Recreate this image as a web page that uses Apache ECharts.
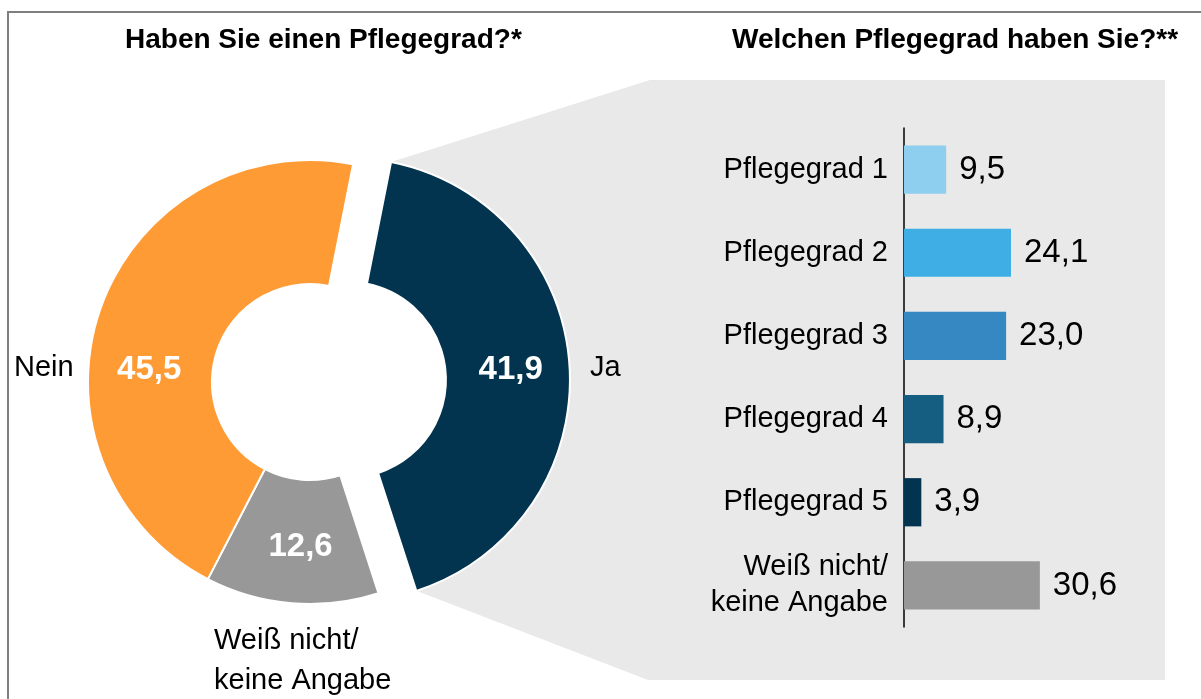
<!DOCTYPE html>
<html>
<head>
<meta charset="utf-8">
<script src="https://cdn.jsdelivr.net/npm/echarts@6/dist/echarts.min.js"></script>
<style>
  html, body { margin: 0; padding: 0; background: #fff; }
  #chart { width: 1201px; height: 699px; }
</style>
</head>
<body>
<div id="chart"></div>
<script>
// Linke Seite: Haben Sie einen Pflegegrad?
var pieNames = ["Ja", "Weiß nicht/\nkeine Angabe", "Nein"];
var pieValues = [41.9, 12.6, 45.5];
var pieColors = ["#02344F", "#989898", "#FE9B35"];

// Rechte Seite: Welchen Pflegegrad haben Sie?
var barCategories = ["Pflegegrad 1", "Pflegegrad 2", "Pflegegrad 3", "Pflegegrad 4", "Pflegegrad 5", "Weiß nicht/\nkeine Angabe"];
var barValues = [9.5, 24.1, 23.0, 8.9, 3.9, 30.6];
var barColors = ["#8ECEEF", "#3EAEE4", "#3588C1", "#155D81", "#02344F", "#989898"];

var fontFam = "Liberation Sans, Arial, sans-serif";

function komma(v) {
  return v.toFixed(1).replace(".", ",");
}

var myChart = echarts.init(document.getElementById("chart"));

var pieData = pieValues.map(function (v, i) {
  return {
    name: pieNames[i],
    value: v,
    selected: i === 0,
    itemStyle: { color: pieColors[i] }
  };
});

var barData = barValues.map(function (v, i) {
  return { value: v, itemStyle: { color: barColors[i] } };
});

var option = {
  backgroundColor: "#fff",
  animation: false,
  graphic: [
    {
      type: "rect",
      z: 0,
      shape: { x: 8, y: 12, width: 1260, height: 760 },
      style: { fill: "none", stroke: "#7F7F7F", lineWidth: 2 }
    },
    {
      // grauer Verbindungstrichter hinter dem Balkendiagramm
      type: "polygon",
      z: 0,
      shape: {
        points: [[391, 162], [650, 80], [1165, 80], [1165, 680], [648, 680], [417, 591], [508, 371]]
      },
      style: { fill: "#E9E9E9" }
    },
    {
      type: "text", z: 5, left: 125, top: 26,
      style: { text: "Haben Sie einen Pflegegrad?*", font: "bold 28px " + fontFam, fill: "#000" }
    },
    {
      type: "text", z: 5, left: 732, top: 26,
      style: { text: "Welchen Pflegegrad haben Sie?**", font: "bold 28px " + fontFam, fill: "#000" }
    },
    {
      type: "text", z: 5, left: 14, top: 353,
      style: { text: "Nein", font: "29px " + fontFam, fill: "#000" }
    },
    {
      type: "text", z: 5, left: 590, top: 353,
      style: { text: "Ja", font: "29px " + fontFam, fill: "#000" }
    },
    {
      type: "text", z: 5, left: 214, top: 621,
      style: { text: "Weiß nicht/\nkeine Angabe", font: "29px " + fontFam, fill: "#000", lineHeight: 40 }
    }
  ],
  grid: {
    left: 904,
    top: 128,
    width: 222,
    height: 499,
    containLabel: false
  },
  xAxis: {
    type: "value",
    min: 0,
    max: 50,
    show: false
  },
  yAxis: {
    type: "category",
    inverse: true,
    data: barCategories,
    axisLine: { show: true, lineStyle: { color: "#000", width: 1.5 } },
    axisTick: { show: false },
    splitLine: { show: false },
    axisLabel: {
      margin: 16,
      color: "#000",
      fontSize: 29,
      fontFamily: fontFam,
      lineHeight: 36,
      align: "right"
    }
  },
  series: [
    {
      type: "pie",
      z: 2,
      center: [310, 382],
      radius: [98, 222],
      startAngle: 78.8,
      clockwise: true,
      selectedMode: "single",
      selectedOffset: 38,
      avoidLabelOverlap: false,
      itemStyle: { borderColor: "#fff", borderWidth: 2 },
      emphasis: { disabled: true },
      label: {
        show: true,
        position: "inside",
        color: "#fff",
        fontWeight: "bold",
        fontSize: 33,
        fontFamily: fontFam,
        formatter: function (p) { return komma(p.value); }
      },
      labelLayout: function (p) {
        // Nein-Wert sitzt im Original weiter unten
        if (p.dataIndex === 2) return { dx: -7, dy: 42 };
        if (p.dataIndex === 1) return { dx: 4, dy: 2 };
        return {};
      },
      labelLine: { show: false },
      data: pieData
    },
    {
      type: "bar",
      barCategoryGap: "42%",
      data: barData,
      label: {
        show: true,
        position: "right",
        distance: 13,
        color: "#000",
        fontSize: 33,
        fontFamily: fontFam,
        formatter: function (p) { return komma(p.value); }
      }
    }
  ]
};

option && myChart.setOption(option);
</script>
</body>
</html>
